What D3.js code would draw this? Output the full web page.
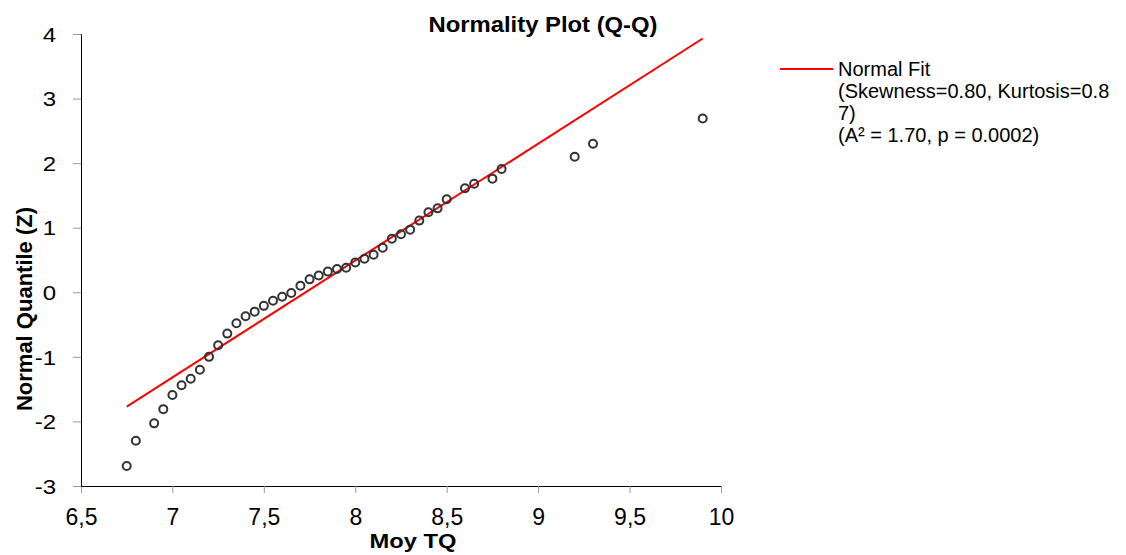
<!DOCTYPE html>
<html><head><meta charset="utf-8">
<script src="https://cdn.jsdelivr.net/npm/d3@7"></script>
<style>
body{margin:0;background:#fff;}
text{font-family:"Liberation Sans",Arial,sans-serif;}
</style></head>
<body><svg id="c" width="1126" height="555"></svg>
<script>
const obsX = [6.75,6.8,6.9,6.95,7.0,7.05,7.1,7.15,7.2,7.25,7.3,7.35,7.4,7.45,7.5,7.55,7.6,7.65,7.7,7.75,7.8,7.85,7.9,7.95,8.0,8.05,8.1,8.15,8.2,8.25,8.3,8.35,8.4,8.45,8.5,8.6,8.65,8.75,8.8,9.2,9.3,9.9];
const obsZ = [-2.69,-2.30,-2.03,-1.81,-1.59,-1.44,-1.34,-1.20,-1.00,-0.82,-0.64,-0.48,-0.37,-0.30,-0.21,-0.13,-0.07,-0.01,0.10,0.20,0.26,0.32,0.36,0.38,0.46,0.52,0.58,0.69,0.83,0.90,0.97,1.11,1.24,1.30,1.44,1.61,1.68,1.76,1.91,2.10,2.30,2.69];
const fitX = [6.75, 9.9];
const fitZ = [-1.77, 3.93];
const xTicks = [6.5,7,7.5,8,8.5,9,9.5,10];
const xTickLabels = ["6,5","7","7,5","8","8,5","9","9,5","10"];
const yTicks = [-3,-2,-1,0,1,2,3,4];
const legendLines = ["Normal Fit","(Skewness=0.80, Kurtosis=0.8","7)","(A\u00b2 = 1.70, p = 0.0002)"];

const svg = d3.select("#c");
const x = d3.scaleLinear().domain([6.5,10]).range([81,721]);
const y = d3.scaleLinear().domain([-3,4]).range([486,34]);

// axes
const gx = svg.append("g").attr("transform","translate(0,486)")
  .call(d3.axisBottom(x).tickValues(xTicks).tickFormat((d,i)=>xTickLabels[i]).tickSizeOuter(0).tickSize(7).tickPadding(16));
const gy = svg.append("g").attr("transform","translate(81,0)")
  .call(d3.axisLeft(y).tickValues(yTicks).tickFormat(d=>String(d)).tickSizeOuter(0).tickSize(8).tickPadding(17));
[gx,gy].forEach(g=>{
  g.select(".domain").attr("stroke","#000").attr("stroke-width",1);
  g.selectAll(".tick line").attr("stroke","#999");
  g.selectAll(".tick text").attr("fill","#000").attr("font-family","Liberation Sans, Arial, sans-serif");
});
gx.selectAll(".tick text").attr("font-size",23);
gy.selectAll(".tick text").attr("font-size",20).attr("dy","0.36em")
  .each(function(){
    const w = this.getComputedTextLength();
    d3.select(this).attr("textLength", w*1.2).attr("lengthAdjust","spacingAndGlyphs");
  });

// fit line
svg.append("path")
  .datum(fitX.map((v,i)=>[v,fitZ[i]]))
  .attr("d", d3.line().x(d=>x(d[0])).y(d=>y(d[1])))
  .attr("stroke","#ff0000").attr("stroke-width",2).attr("fill","none");

// points
svg.append("g").selectAll("circle").data(obsX.map((v,i)=>[v,obsZ[i]])).join("circle")
  .attr("cx",d=>x(d[0])).attr("cy",d=>y(d[1])).attr("r",4)
  .attr("fill","none").attr("stroke","#333").attr("stroke-width",2);

// titles
function stretch(sel, w){
  sel.attr("textLength", w).attr("lengthAdjust","spacingAndGlyphs");
}
const title = svg.append("text").attr("x",543).attr("y",32).attr("text-anchor","middle")
  .attr("font-size",22).attr("font-weight","bold").text("Normality Plot (Q-Q)");
stretch(title, 229);
const xt = svg.append("text").attr("x",413).attr("y",548).attr("text-anchor","middle")
  .attr("font-size",21).attr("font-weight","bold").text("Moy TQ");
stretch(xt, 87);
svg.append("text").attr("transform","translate(32,309) rotate(-90)").attr("text-anchor","middle")
  .attr("font-size",22).attr("font-weight","bold").text("Normal Quantile (Z)");

// legend
svg.append("line").attr("x1",780).attr("x2",833).attr("y1",69).attr("y2",69)
  .attr("stroke","#ff0000").attr("stroke-width",2);
svg.append("g").selectAll("text").data(legendLines).join("text")
  .attr("x",838).attr("y",(d,i)=>76+i*22).attr("font-size",20).attr("fill","#000").text(d=>d);
</script></body></html>
